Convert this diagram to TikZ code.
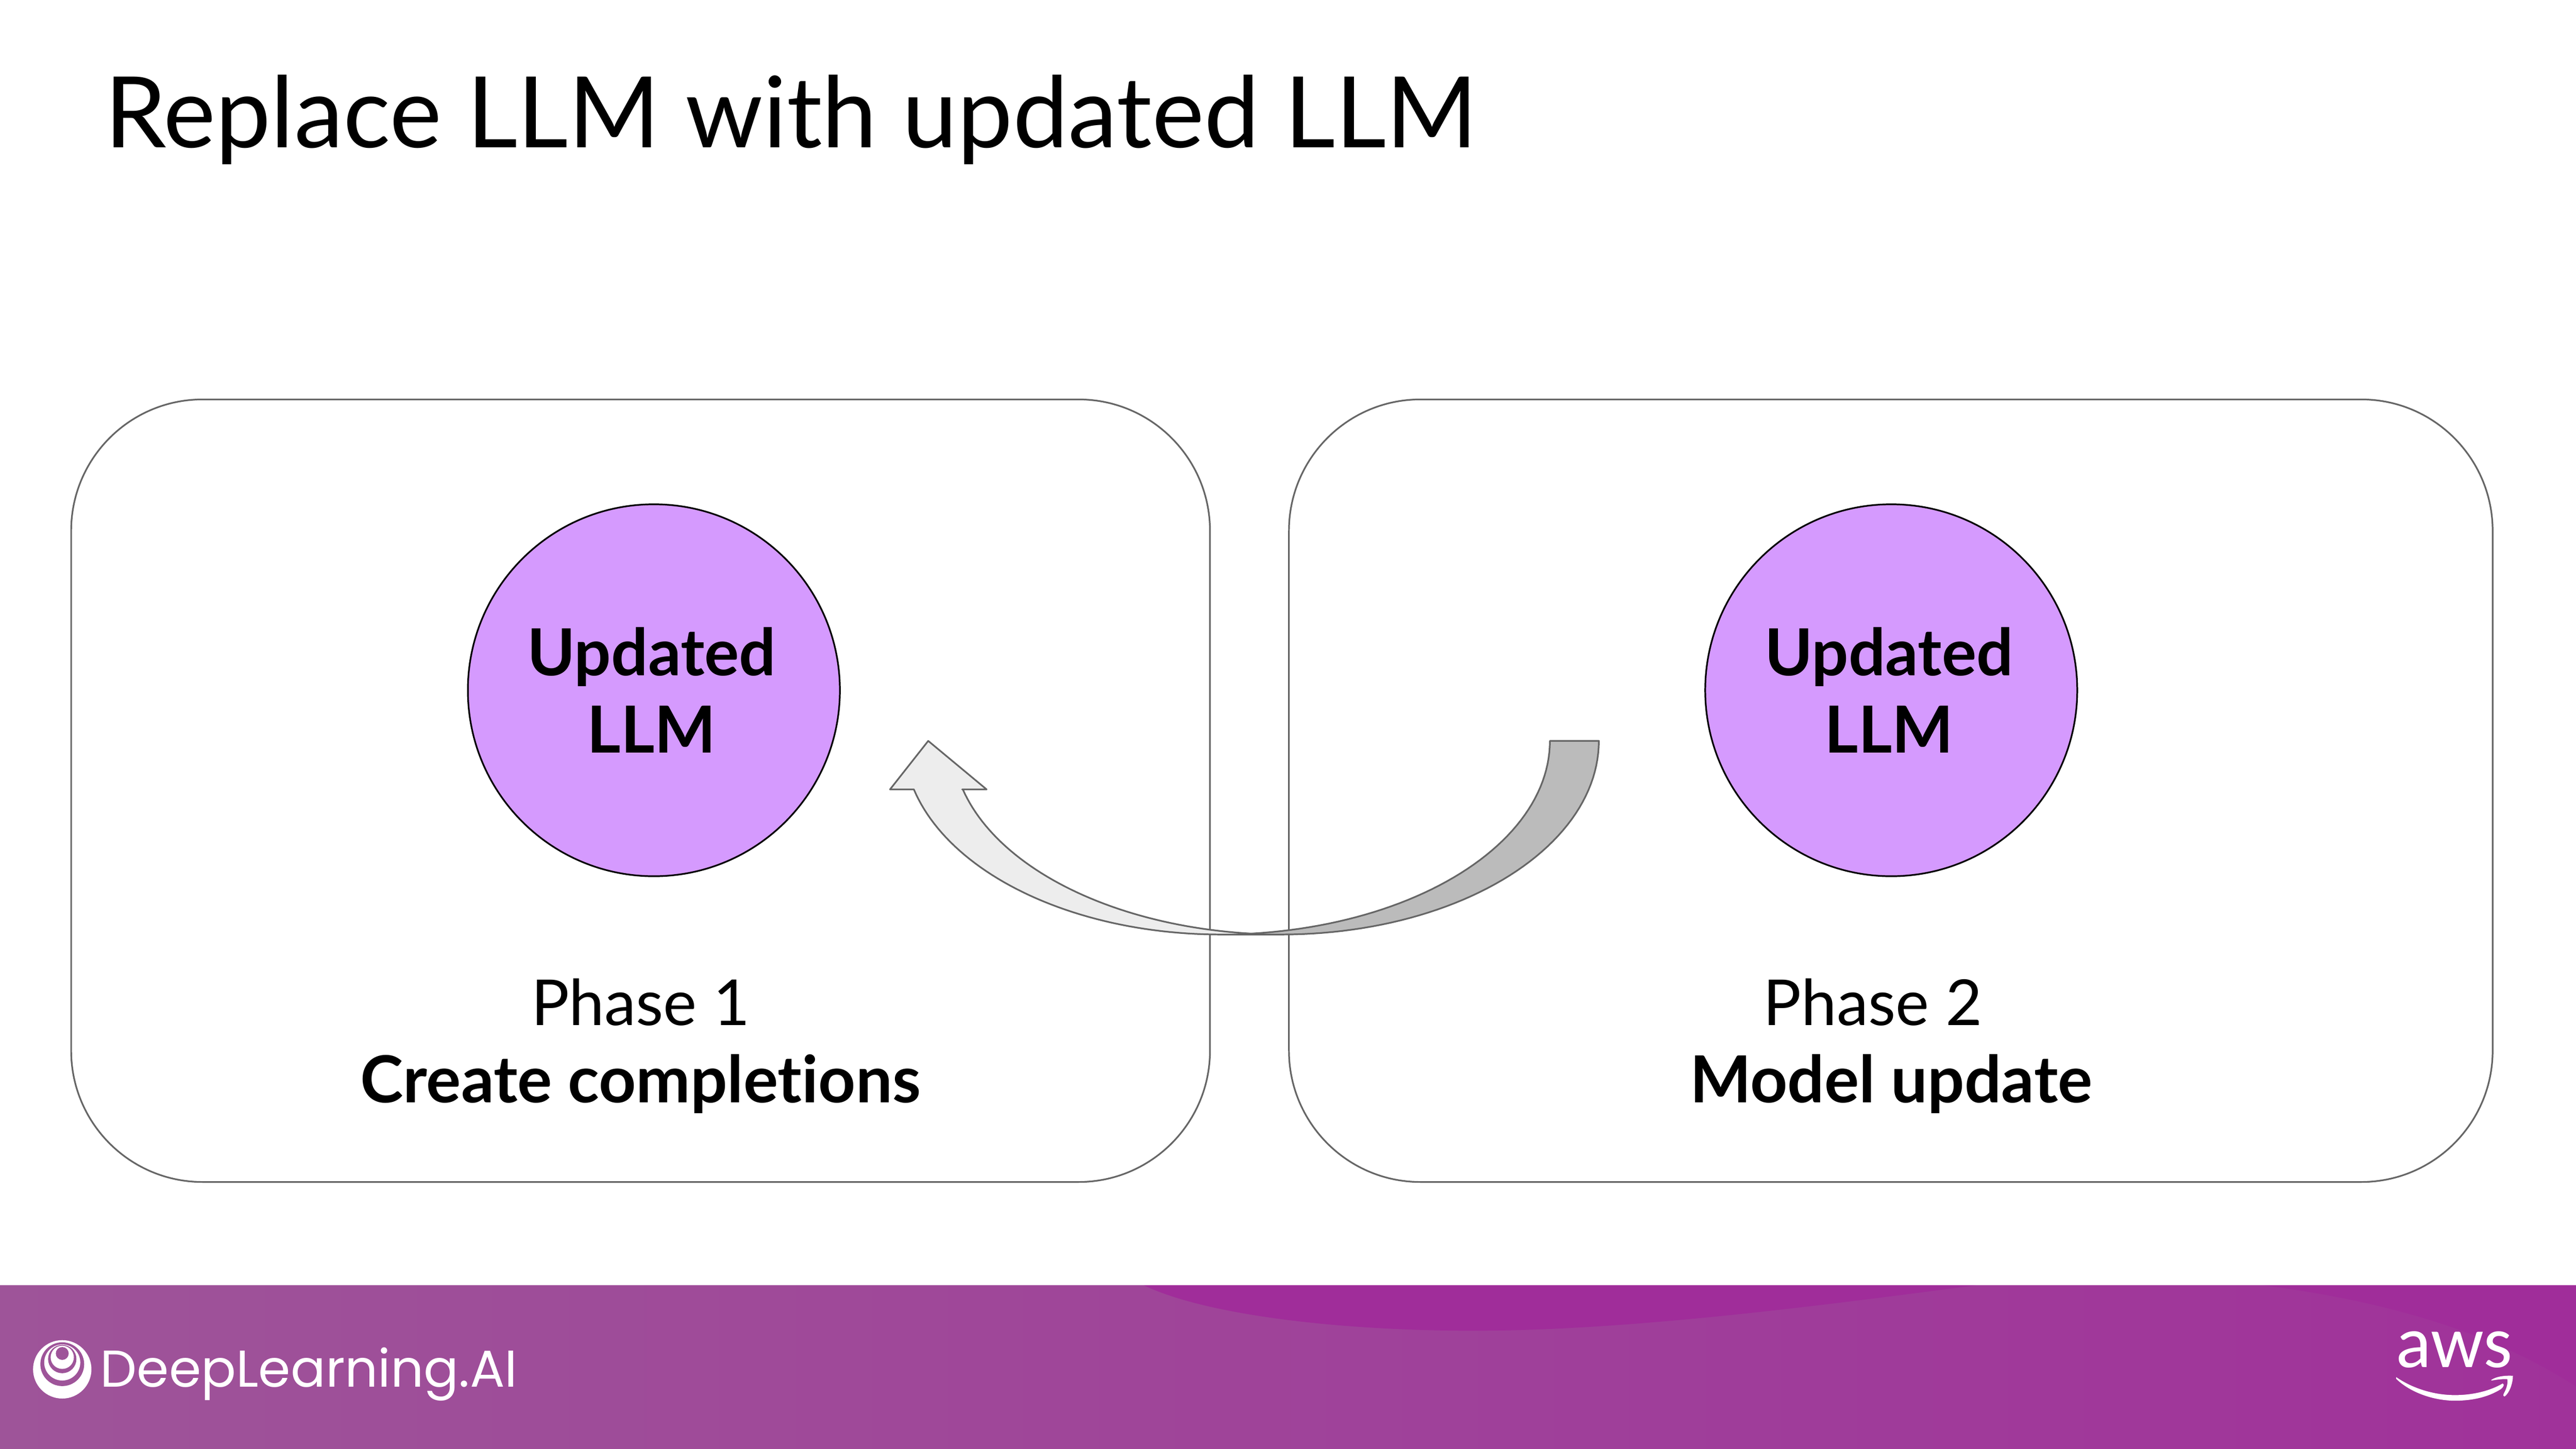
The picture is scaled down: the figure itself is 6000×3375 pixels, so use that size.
\documentclass[tikz,border=0pt]{standalone}
\usepackage{fontspec}
\setmainfont{Lato}[Ligatures=NoCommon]
\newfontfamily\popfont{Poppins}
\newfontfamily\awsfont{Carlito}
\definecolor{panelline}{HTML}{666666}
\definecolor{llmfill}{HTML}{D59AFE}
\definecolor{arrowlight}{HTML}{EDEDED}
\definecolor{arrowdark}{HTML}{BBBBBB}
\definecolor{footleft}{HTML}{9E5499}
\definecolor{footright}{HTML}{A0329A}
\definecolor{footdark}{HTML}{A02D9A}
\tikzset{
  panel/.style={draw=panelline,line width=1.1pt,rectangle,rounded corners=3.06cm,minimum height=18.22cm,inner sep=0pt},
  llm/.style={draw=black,fill=llmfill,line width=1.1pt,circle,minimum size=8.66cm,inner sep=0pt,align=center,font=\fontsize{43}{51.2}\selectfont\bfseries},
  phase/.style={anchor=base,font=\fontsize{42}{50}\selectfont},
  phasebold/.style={anchor=base,font=\fontsize{43}{50}\selectfont\bfseries},
  arrowline/.style={draw=panelline,line width=1.1pt,line join=round},
}
\begin{document}
\begin{tikzpicture}[x=0.01cm,y=-0.01cm]
\useasboundingbox (0,0) rectangle (6000,3375);
\fill[white] (0,0) rectangle (6000,3375);
% footer
\shade[left color=footleft,right color=footright] (0,2994) rectangle (6000,3375);
\fill[footdark] (2664,2994) .. controls (2800,3060) and (3100,3100) .. (3433,3100)
  .. controls (3800,3100) and (4250,3040) .. (4604,2994) -- cycle;
\fill[footdark] (5270,2994) .. controls (5550,3030) and (5800,3100) .. (6000,3230) -- (6000,2994) -- cycle;
% title
\node[anchor=base west,inner sep=0pt,font=\fontsize{65.4}{70}\selectfont] (title) at (243,344) {Replace LLM with updated LLM};
% panels
\node[panel,minimum width=26.51cm] (p1) at (1492,1842) {};
\node[panel,minimum width=28.02cm] (p2) at (4404,1842) {};
% circles
\node[llm] (c1) at (1523,1608) {Updated\hspace*{3pt}\\LLM\hspace*{3pt}};
\node[llm] (c2) at (4405,1608) {Updated\hspace*{3pt}\\LLM\hspace*{3pt}};
% labels
\node[phase] (ph1) at (1492,2388) {Phase 1};
\node[phasebold] (cc) at (1492,2568) {Create completions};
\node[phase] (ph2) at (4362,2388) {Phase 2};
\node[phasebold] (mu) at (4405,2568) {Model update};
% curved arrow
\draw[arrowline,fill=arrowdark] (3610,1726) -- (3724,1726)
  -- plot[domain=0:90,samples=50] ({2985+739*cos(\x)},{1726+451*sin(\x)})
  -- (2914,2177)
  -- plot[domain=84.5:0,samples=50] ({2840+770*cos(\x)},{1726+451*sin(\x)})
  -- cycle;
\draw[arrowline,fill=arrowlight] (2162,1726) -- (2298,1839) -- (2241,1839)
  -- plot[domain=14.5:84.5,samples=50] ({2988-770*cos(\x)},{1726+451*sin(\x)})
  -- (2914,2177)
  -- plot[domain=90:14.5,samples=50] ({2843-738*cos(\x)},{1726+451*sin(\x)})
  -- (2073,1839) -- cycle;
% logo
\fill[white] (145,3190) circle (68);
\fill[footleft] (145,3178) circle (51);
\fill[white] (145,3174) circle (42);
\fill[footleft] (145,3166) circle (33);
\fill[white] (145,3162) circle (27);
\fill[footleft] (145,3153) circle (15);
\node[anchor=base west,inner sep=0pt,text=white,font=\popfont\fontsize{34.3}{40}\selectfont] (dl) at (233,3231) {DeepLearning.AI};
% aws
\node[anchor=base,inner sep=0pt,text=white,font=\awsfont\fontsize{49}{60}\selectfont] (aws) at (5716,3185) {aws};
\fill[white] (5581,3208) .. controls (5620,3235) and (5670,3250) .. (5718,3250)
  .. controls (5760,3250) and (5800,3240) .. (5829,3223)
  .. controls (5835,3225) and (5830,3232) .. (5825,3236)
  .. controls (5790,3258) and (5750,3263) .. (5718,3263)
  .. controls (5670,3263) and (5615,3245) .. (5581,3212) -- cycle;
\fill[white] (5802,3215) .. controls (5815,3206) and (5835,3204) .. (5853,3205)
  .. controls (5853,3222) and (5845,3245) .. (5834,3253)
  .. controls (5830,3253) and (5830,3250) .. (5832,3246)
  .. controls (5838,3235) and (5842,3222) .. (5840,3213)
  .. controls (5830,3212) and (5815,3214) .. (5804,3216) -- cycle;
\end{tikzpicture}
\end{document}
